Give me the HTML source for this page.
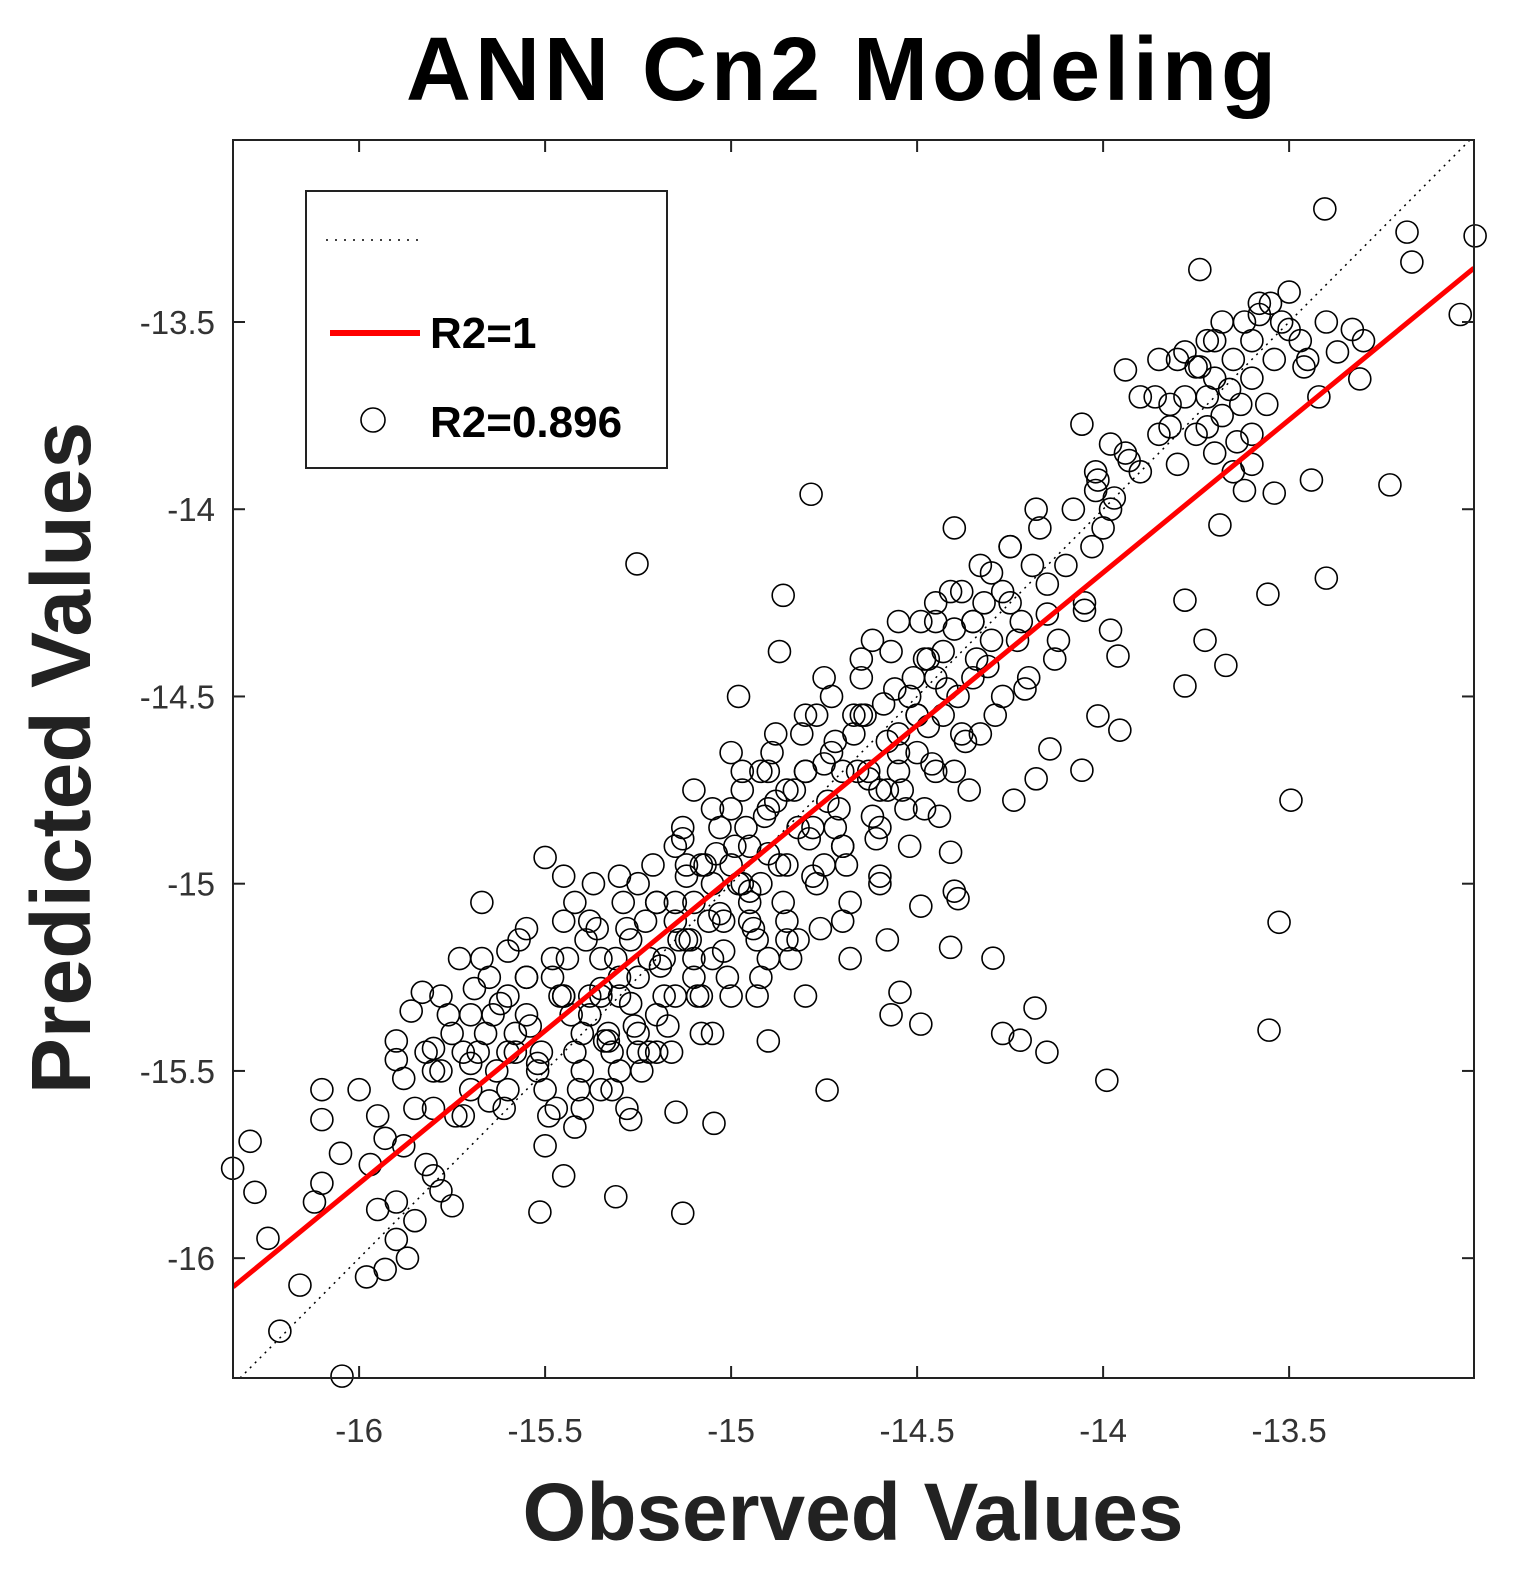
<!DOCTYPE html>
<html><head><meta charset="utf-8"><style>
html,body{margin:0;padding:0;background:#fff;}
svg{display:block;font-family:"Liberation Sans",Arial,sans-serif;}
</style></head><body>
<svg id="chart" width="1521" height="1578" viewBox="0 0 1521 1578">
<text x="843" y="100" text-anchor="middle" font-size="90" font-weight="bold" letter-spacing="4">ANN Cn2 Modeling</text>
<text transform="translate(90,758) rotate(-90)" text-anchor="middle" font-size="84" font-weight="bold" fill="#222">Predicted Values</text>
<text x="853" y="1540" text-anchor="middle" font-size="82" font-weight="bold" fill="#222">Observed Values</text>
<g id="plot"></g>
</svg>
<script>
const xTicks=[-16,-15.5,-15,-14.5,-14,-13.5];
const yTicks=[-13.5,-14,-14.5,-15,-15.5,-16];
const xTickLabels=["-16","-15.5","-15","-14.5","-14","-13.5"];
const yTickLabels=["-13.5","-14","-14.5","-15","-15.5","-16"];
const fitLine=[[-16.339,-16.077],[-13.003,-13.356]];
const observedA=[-13.404,-13.0,-13.183,-13.17,-13.04,-13.74,-14.785,-15.253,-13.229,-13.40,-13.557,-13.495,-13.527,-13.554,-13.99,-14.223,-14.151,-14.27,-14.296,-14.183,-14.49,-14.57,-14.546,-15.13,-14.742,-15.046,-15.148,-15.31,-15.514,-16.046,-16.213,-16.159,-16.34,-16.293,-16.28,-16.245,-13.78,-13.78,-13.726,-13.67,-13.686,-13.54,-13.44,-13.31,-13.94,-14.057,-13.98,-14.014,-14.014,-14.057,-13.955,-14.143,-14.18,-14.24,-13.98,-14.05,-13.96,-14.41,-14.40,-14.39,-14.41,-14.49,
-16.0,-15.95,-15.93,-15.9,-15.88,-15.86,-15.83,-15.8,-15.9,-15.95,-15.98,-15.93,-15.87,-15.9,-15.85,-15.82,-15.78,-15.8,-16.05,-16.1,-16.1,-16.12,-16.1,-15.97,-15.75,-15.72,-15.7,-15.75,-15.78,-15.73,-15.68,-15.65,-15.6,-15.62,-15.65,-15.67,-15.6,-15.55,-15.58,-15.52,-15.5,-15.47,-15.5,-15.45,-15.42,-15.4,-15.45,-15.48,-15.5,-15.45,-15.42,-15.38,-15.35,-15.38,-15.33,-15.3,-15.28,-15.27,-15.35,-15.3,-15.27,-15.25,-15.3,-15.25,-15.2,-15.22,-15.18,-15.15,-15.15,-15.13,-15.1,-15.12,-15.1,-15.08,-15.05,-15.05,-15.03,-15.0,-15.0,-14.98,-14.97,-14.95,-14.95,-14.93,-14.9,-14.92,-14.9,-14.88,-14.87,-14.86,-14.85,-14.82,-14.8,-14.8,-14.78,-14.77,-14.75,-14.73,-14.7,-14.7,-14.68,-14.67,-14.65,-14.63,-14.6,-14.6,-14.58,-14.55,-14.55,-14.52,-14.5,-14.48,-14.47,-14.45,-14.43,-14.4,-14.4,-14.38,-14.35,-14.33,-14.3,-14.3,-14.27,-14.25,-14.22,-14.2,-14.18,-14.15,-14.12,-14.1,-14.08,-14.05,-14.03,-14.0,-14.02,-13.97,-13.93,-13.85,-13.82,-13.8,-13.78,-13.75,-13.72,-13.7,-13.68,-13.65,-13.63,-13.6,-13.58,-13.55,-13.52,-13.5,-13.47,-13.45,-13.42,-13.4,-13.37,-13.33,-13.3,-13.65,-13.7,-13.75,-13.8,-13.6,-13.62,-13.85,-13.9,-13.72,-13.6,
-15.05,-14.97,-15.02,-14.9,-15.1,-15.2,-14.85,-14.65,-14.55,-14.45,-15.35,-15.55,-15.6,-15.4,-15.25,-15.15,-14.75,-14.6,-14.7,-14.5,-14.35,-15.8,-15.7,-15.55,-15.2,-15.0,-14.9,-14.8,-14.62,-14.45,-14.25,-15.12,-14.95,-14.85,-15.32,-15.45,-14.72,-14.58,-15.08,-14.92];
const predictedA=[-13.198,-13.27,-13.26,-13.34,-13.48,-13.36,-13.96,-14.146,-13.935,-14.184,-14.227,-14.777,-15.103,-15.391,-15.525,-15.418,-15.45,-15.40,-15.199,-15.332,-15.375,-15.35,-15.29,-15.88,-15.551,-15.64,-15.61,-15.836,-15.877,-16.315,-16.195,-16.072,-15.76,-15.688,-15.824,-15.947,-14.243,-14.472,-14.35,-14.417,-14.042,-13.957,-13.922,-13.652,-13.628,-13.773,-13.826,-13.922,-14.552,-14.697,-14.59,-14.64,-14.72,-14.777,-14.323,-14.27,-14.392,-14.916,-15.02,-15.04,-15.17,-15.06,
-15.55,-15.62,-15.68,-15.47,-15.52,-15.34,-15.29,-15.44,-15.85,-15.87,-16.05,-16.03,-16.0,-15.95,-15.9,-15.75,-15.82,-15.78,-15.72,-15.63,-15.55,-15.85,-15.8,-15.75,-15.86,-15.62,-15.48,-15.4,-15.5,-15.2,-15.45,-15.58,-15.55,-15.32,-15.25,-15.05,-15.18,-15.12,-15.4,-15.48,-15.55,-15.6,-15.7,-15.78,-15.65,-15.5,-15.3,-15.2,-14.93,-14.98,-15.05,-15.1,-15.2,-15.35,-15.42,-15.5,-15.6,-15.63,-15.55,-15.3,-15.15,-15.0,-14.98,-15.25,-15.35,-15.45,-15.2,-15.1,-14.9,-14.85,-14.75,-14.95,-15.05,-15.3,-15.4,-15.2,-14.85,-14.95,-14.65,-14.5,-14.75,-14.9,-15.1,-15.3,-15.42,-15.0,-14.8,-14.6,-14.38,-14.23,-14.95,-15.15,-15.3,-14.7,-14.85,-14.55,-14.45,-14.65,-14.9,-15.1,-15.2,-14.55,-14.4,-14.7,-14.85,-15.0,-15.15,-14.6,-14.3,-14.5,-14.65,-14.8,-14.4,-14.25,-14.55,-14.05,-14.7,-14.22,-14.45,-14.6,-14.35,-14.17,-14.5,-14.1,-14.3,-14.45,-14.0,-14.2,-14.35,-14.15,-14.0,-14.25,-14.1,-14.05,-13.9,-13.97,-13.87,-13.8,-13.72,-13.6,-13.7,-13.62,-13.55,-13.65,-13.5,-13.6,-13.72,-13.55,-13.48,-13.45,-13.5,-13.42,-13.55,-13.6,-13.7,-13.5,-13.58,-13.52,-13.55,-13.9,-13.85,-13.8,-13.88,-13.8,-13.95,-13.6,-13.7,-13.78,-13.65,
-15.0,-15.0,-15.1,-15.2,-15.2,-15.05,-14.75,-14.55,-14.7,-14.45,-15.3,-15.35,-15.45,-15.4,-15.4,-15.3,-14.95,-14.75,-14.7,-14.55,-14.3,-15.6,-15.35,-15.25,-15.45,-14.8,-14.7,-14.55,-14.35,-14.3,-14.25,-15.15,-15.05,-15.15,-15.45,-15.3,-14.85,-14.75,-14.95,-14.7];
const observedB=[-15.9,-15.85,-15.8,-15.76,-15.72,-15.69,-15.66,-15.63,-15.6,-15.57,-15.54,-15.51,-15.48,-15.45,-15.43,-15.41,-15.39,-15.37,-15.35,-15.33,-15.31,-15.29,-15.27,-15.25,-15.23,-15.21,-15.19,-15.17,-15.15,-15.13,-15.11,-15.09,-15.07,-15.05,-15.03,-15.01,-14.99,-14.97,-14.95,-14.93,-14.91,-14.89,-14.87,-14.85,-14.83,-14.81,-14.79,-14.77,-14.75,-14.73,-14.71,-14.69,-14.67,-14.65,-14.63,-14.61,-14.59,-14.57,-14.55,-14.53,-14.51,-14.49,-14.47,-14.45,-14.43,-14.41,-14.39,-14.37,-14.35,-14.33,-14.31,-14.29,-14.27,-14.25,-14.23,-14.21,-14.19,-14.17,-14.15,-14.13];
const predictedB=[-15.42,-15.6,-15.5,-15.35,-15.45,-15.28,-15.4,-15.5,-15.3,-15.15,-15.38,-15.45,-15.25,-15.1,-15.35,-15.55,-15.15,-15.0,-15.28,-15.4,-15.2,-15.05,-15.32,-15.45,-15.1,-14.95,-15.22,-15.38,-15.05,-14.88,-15.15,-15.3,-14.95,-14.8,-15.08,-15.25,-14.9,-14.7,-15.02,-15.15,-14.82,-14.65,-14.95,-15.1,-14.75,-14.6,-14.88,-15.0,-14.68,-14.5,-14.8,-14.95,-14.6,-14.45,-14.72,-14.88,-14.52,-14.38,-14.65,-14.8,-14.45,-14.3,-14.58,-14.7,-14.38,-14.22,-14.5,-14.62,-14.3,-14.15,-14.42,-14.55,-14.22,-14.1,-14.35,-14.48,-14.15,-14.05,-14.28,-14.4];
const observedC=[-15.88,-15.82,-15.78,-15.74,-15.7,-15.67,-15.64,-15.61,-15.58,-15.55,-15.52,-15.49,-15.46,-15.44,-15.42,-15.4,-15.38,-15.36,-15.34,-15.32,-15.3,-15.28,-15.26,-15.24,-15.22,-15.2,-15.18,-15.16,-15.14,-15.12,-15.1,-15.08,-15.06,-15.04,-15.02,-15.0,-14.98,-14.96,-14.94,-14.92,-14.9,-14.88,-14.86,-14.84,-14.82,-14.8,-14.78,-14.76,-14.74,-14.72,-14.7,-14.68,-14.66,-14.64,-14.62,-14.6,-14.58,-14.56,-14.54,-14.52,-14.5,-14.48,-14.46,-14.44,-14.42,-14.4,-14.38,-14.36,-14.34,-14.32,
-13.78,-13.74,-13.7,-13.66,-13.62,-13.58,-13.54,-13.5,-13.46,-13.68,-13.64,-13.72,-13.56,-13.6,-13.82,-13.86,-13.9,-13.94,-13.98,-14.02];
const predictedC=[-15.7,-15.45,-15.3,-15.62,-15.55,-15.2,-15.35,-15.6,-15.45,-15.25,-15.5,-15.62,-15.3,-15.2,-15.45,-15.6,-15.3,-15.12,-15.42,-15.55,-15.25,-15.12,-15.38,-15.5,-15.2,-15.05,-15.3,-15.45,-15.15,-14.98,-15.25,-15.4,-15.1,-14.92,-15.18,-15.3,-15.0,-14.85,-15.12,-15.25,-14.92,-14.78,-15.05,-15.2,-14.85,-14.7,-14.98,-15.12,-14.78,-14.62,-14.9,-15.05,-14.7,-14.55,-14.82,-14.98,-14.62,-14.48,-14.75,-14.9,-14.55,-14.4,-14.68,-14.82,-14.48,-14.32,-14.6,-14.75,-14.4,-14.25,
-13.58,-13.62,-13.55,-13.68,-13.5,-13.45,-13.6,-13.52,-13.62,-13.75,-13.82,-13.7,-13.72,-13.88,-13.78,-13.7,-13.9,-13.85,-14.0,-13.95];
const observed=observedA.concat(observedB,observedC);
const predicted=predictedA.concat(predictedB,predictedC);

const X0=-16.339,X1=-13.003,Y0=-16.32,Y1=-13.014;
const L=233,R=1474,T=140,B=1378;
const sx=v=>L+(v-X0)/(X1-X0)*(R-L);
const sy=v=>B-(v-Y0)/(Y1-Y0)*(B-T);
const NS="http://www.w3.org/2000/svg";
const g=document.getElementById('plot');
function mk(tag,attrs){const e=document.createElementNS(NS,tag);for(const k in attrs)e.setAttribute(k,attrs[k]);return e;}

const clip=mk('clipPath',{id:'clp'});clip.appendChild(mk('rect',{x:L,y:T,width:R-L,height:B-T}));g.appendChild(clip);

const lo=Math.max(X0,Y0),hi=Math.min(X1,Y1);
const diag=mk('line',{x1:sx(lo),y1:sy(lo),x2:sx(hi),y2:sy(hi),stroke:'#000','stroke-width':1.5,'stroke-dasharray':'2,5','clip-path':'url(#clp)'});


g.appendChild(diag);

const pts=mk('g',{fill:'none',stroke:'#000','stroke-width':1.6});


const n=Math.min(observed.length,predicted.length);
for(let i=0;i<n;i++){
  const c=mk('circle',{cx:sx(observed[i]),cy:sy(predicted[i]),r:11});
  
  
  pts.appendChild(c);
}
g.appendChild(pts);

const fl=mk('line',{x1:sx(fitLine[0][0]),y1:sy(fitLine[0][1]),x2:sx(fitLine[1][0]),y2:sy(fitLine[1][1]),stroke:'#f00','stroke-width':5,'clip-path':'url(#clp)'});


g.appendChild(fl);

const fr=mk('rect',{x:L,y:T,width:R-L,height:B-T,fill:'none',stroke:'#222','stroke-width':2});


g.appendChild(fr);

xTicks.forEach((v,i)=>{
  const x=sx(v);
  g.appendChild(mk('line',{x1:x,y1:B,x2:x,y2:B-12,stroke:'#222','stroke-width':2}));
  g.appendChild(mk('line',{x1:x,y1:T,x2:x,y2:T+12,stroke:'#222','stroke-width':2}));
  const t=mk('text',{x:x,y:1442,'text-anchor':'middle','font-size':33,fill:'#333'});
  t.textContent=xTickLabels[i];
  
  
  g.appendChild(t);
});
yTicks.forEach((v,i)=>{
  const y=sy(v);
  g.appendChild(mk('line',{x1:L,y1:y,x2:L+12,y2:y,stroke:'#222','stroke-width':2}));
  g.appendChild(mk('line',{x1:R,y1:y,x2:R-12,y2:y,stroke:'#222','stroke-width':2}));
  const t=mk('text',{x:215,y:y+12,'text-anchor':'end','font-size':33,fill:'#333'});
  t.textContent=yTickLabels[i];
  
  
  g.appendChild(t);
});

const lg=mk('g',{});


lg.appendChild(mk('rect',{x:306,y:191,width:361,height:277,fill:'#fff',stroke:'#222','stroke-width':2}));
lg.appendChild(mk('line',{x1:326,y1:240,x2:420,y2:240,stroke:'#000','stroke-width':1.5,'stroke-dasharray':'2,7'}));
lg.appendChild(mk('line',{x1:330,y1:333,x2:420,y2:333,stroke:'#f00','stroke-width':6}));
lg.appendChild(mk('circle',{cx:373,cy:420,r:12,fill:'none',stroke:'#000','stroke-width':1.6}));
const t1=mk('text',{x:430,y:348,'font-size':44,'font-weight':'bold'});t1.textContent='R2=1';


const t2=mk('text',{x:430,y:437,'font-size':44,'font-weight':'bold'});t2.textContent='R2=0.896';


lg.appendChild(t1);lg.appendChild(t2);
g.appendChild(lg);
</script>
</body></html>
